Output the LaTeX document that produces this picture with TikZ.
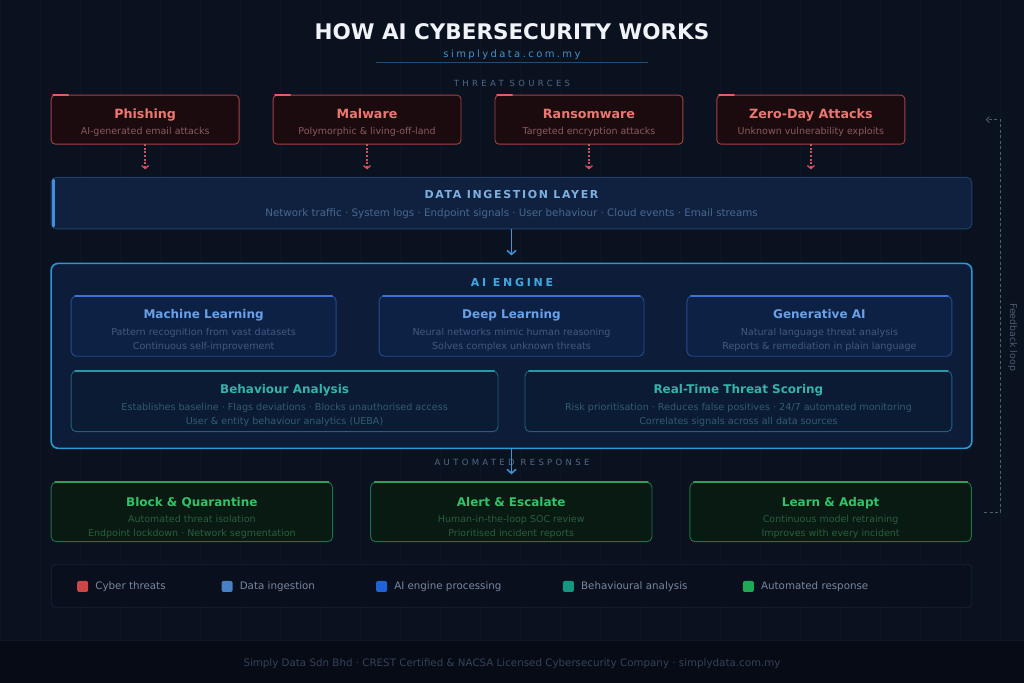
\documentclass[tikz,border=0pt]{standalone}
\usepackage{fontspec}
\setmainfont{DejaVu Sans}
\usetikzlibrary{positioning,arrows.meta}
\usepackage{xcolor}
\definecolor{PageBg}{RGB}{10,17,31}
\definecolor{GridLine}{RGB}{13,21,37}
\definecolor{FootBg}{RGB}{7,11,21}
\definecolor{FootRule}{RGB}{16,24,40}
\definecolor{TitleWhite}{RGB}{240,244,248}
\definecolor{SubBlue}{RGB}{74,144,190}
\definecolor{RuleBlue}{RGB}{30,78,120}
\definecolor{CapGrey}{RGB}{80,105,135}
\definecolor{ThreatRed}{RGB}{165,65,68}
\definecolor{ThreatAccent}{RGB}{225,95,95}
\definecolor{ThreatFill}{RGB}{27,11,15}
\definecolor{ThreatTitle}{RGB}{235,120,112}
\definecolor{ThreatText}{RGB}{140,90,92}
\definecolor{ThreatArrow}{RGB}{200,85,95}
\definecolor{IngestFill}{RGB}{15,33,62}
\definecolor{IngestLine}{RGB}{32,64,106}
\definecolor{IngestBar}{RGB}{70,140,220}
\definecolor{IngestTitle}{RGB}{125,175,225}
\definecolor{IngestText}{RGB}{72,104,145}
\definecolor{FlowBlue}{RGB}{60,150,215}
\definecolor{EngineLine}{RGB}{45,150,212}
\definecolor{EngineFill}{RGB}{13,29,57}
\definecolor{EngineTitle}{RGB}{60,170,225}
\definecolor{CardLine}{RGB}{36,76,142}
\definecolor{CardTop}{RGB}{55,118,208}
\definecolor{CardFill}{RGB}{13,33,68}
\definecolor{CardTitle}{RGB}{105,160,232}
\definecolor{CardText}{RGB}{64,90,128}
\definecolor{TealLine}{RGB}{28,100,125}
\definecolor{TealTop}{RGB}{40,150,165}
\definecolor{TealFill}{RGB}{11,27,52}
\definecolor{TealTitle}{RGB}{50,180,170}
\definecolor{TealText}{RGB}{50,92,112}
\definecolor{GreenLine}{RGB}{30,115,70}
\definecolor{GreenTop}{RGB}{45,160,95}
\definecolor{GreenFill}{RGB}{8,26,18}
\definecolor{GreenTitle}{RGB}{50,195,105}
\definecolor{GreenText}{RGB}{42,94,64}
\definecolor{LegendFill}{RGB}{9,15,28}
\definecolor{LegendLine}{RGB}{24,34,54}
\definecolor{LegendText}{RGB}{120,135,158}
\definecolor{KeyRed}{RGB}{205,70,70}
\definecolor{KeyIngest}{RGB}{70,130,195}
\definecolor{KeyEngine}{RGB}{30,100,215}
\definecolor{KeyTeal}{RGB}{20,150,130}
\definecolor{KeyGreen}{RGB}{30,170,85}
\definecolor{FeedGrey}{RGB}{80,92,115}
\definecolor{FootText}{RGB}{52,66,92}

% card headings (the rule pushes the text block down in its box)
\newcommand{\threattitle}[1]{\rule{0pt}{15.2pt}{\fontsize{12.7}{16}\selectfont\bfseries\color{ThreatTitle}#1}}
\newcommand{\cardtitle}[1]{\rule{0pt}{18pt}{\fontsize{12}{14}\selectfont\bfseries\color{CardTitle}#1}}
\newcommand{\tealtitle}[1]{\rule{0pt}{17.5pt}{\fontsize{12}{14}\selectfont\bfseries\color{TealTitle}#1}}
\newcommand{\greentitle}[1]{\rule{0pt}{20.3pt}{\fontsize{12}{14}\selectfont\bfseries\color{GreenTitle}#1}}

\begin{document}
\begin{tikzpicture}[
x=1pt,y=-1pt,
node distance=34pt,
threat/.style={
rectangle,rounded corners=4pt,draw=ThreatRed,fill=ThreatFill,line width=0.9pt,
minimum width=188pt,minimum height=49pt,inner sep=0pt,outer sep=0pt,align=center,
font=\fontsize{9.5}{16.2}\selectfont,text=ThreatText
},
ingest/.style={
rectangle,rounded corners=5pt,draw=IngestLine,fill=IngestFill,line width=0.9pt,
minimum width=921pt,minimum height=51.4pt,inner sep=0pt,outer sep=0pt,align=center,
font=\fontsize{10.3}{18.1}\selectfont,text=IngestText
},
engine/.style={
rectangle,rounded corners=7pt,draw=EngineLine,fill=EngineFill,line width=1.6pt,
minimum width=921pt,minimum height=185pt,inner sep=0pt,outer sep=0pt
},
card/.style={
rectangle,rounded corners=5pt,draw=CardLine,fill=CardFill,line width=0.9pt,
minimum width=265pt,minimum height=60.3pt,inner sep=0pt,outer sep=0pt,align=center,
font=\fontsize{9.6}{14}\selectfont,text=CardText
},
tealcard/.style={
card,draw=TealLine,fill=TealFill,text=TealText,minimum width=427pt,minimum height=60.7pt
},
respond/.style={
rectangle,rounded corners=5pt,draw=GreenLine,fill=GreenFill,line width=0.9pt,
minimum width=281.5pt,minimum height=59.4pt,inner sep=0pt,outer sep=0pt,align=center,
font=\fontsize{9.5}{13.4}\selectfont,text=GreenText
},
legendbar/.style={
rectangle,rounded corners=4pt,draw=LegendLine,fill=LegendFill,line width=0.8pt,
minimum width=921pt,minimum height=43pt,inner sep=0pt
},
keysq/.style={rectangle,rounded corners=2pt,minimum size=11pt,inner sep=0pt,outer sep=0pt},
keylabel/.style={inner sep=0pt,font=\fontsize{10.3}{12}\selectfont,text=LegendText},
spaced/.style={anchor=base,inner sep=0pt,text=CapGrey,
font=\fontsize{8.5}{10}\selectfont\addfontfeature{LetterSpace=39}},
flow/.style={-{Straight Barb[length=4pt,width=9pt]},line width=1.5pt,draw=FlowBlue},
threatflow/.style={-{Straight Barb[length=3pt,width=7pt]},line width=1.3pt,
draw=ThreatArrow,dash pattern=on 2pt off 1.6pt},
feedback/.style={-{Straight Barb[length=3pt,width=6pt]},line width=0.8pt,
draw=FeedGrey,dash pattern=on 3pt off 2.5pt},
accent/.style={line width=2pt,line cap=round}
]

% page
\fill[PageBg] (0,0) rectangle (1024,683);
\draw[GridLine,step=40] (0,0) grid (1024,640);
\fill[FootBg] (0,640) rectangle (1024,683);
\draw[FootRule] (0,640) -- (1024,640);

% heading
\node[anchor=base,inner sep=0pt,text=TitleWhite,font=\fontsize{21.5}{24}\selectfont\bfseries]
(title) at (512,39.3) {HOW AI CYBERSECURITY WORKS};
\node[anchor=base,inner sep=0pt,text=SubBlue,font=\fontsize{10}{12}\selectfont\addfontfeature{LetterSpace=24}]
(site) at (512,57) {simplydata.com.my};
\draw[RuleBlue,line width=1pt] (376,62.7) -- (648,62.7);

\node[spaced] (srcHead) at (512,86.4) {THREAT SOURCES};

% threat sources
\node[threat] (phish) at (145,119.5) {\threattitle{Phishing}\\AI-generated email attacks};
\node[threat,right=of phish] (malware) {\threattitle{Malware}\\Polymorphic \& living-off-land};
\node[threat,right=of malware] (ransom) {\threattitle{Ransomware}\\Targeted encryption attacks};
\node[threat,right=of ransom] (zeroday) {\threattitle{Zero-Day Attacks}\\Unknown vulnerability exploits};

% data ingestion
\node[ingest] (ingest) at (511.5,203) {%
\rule{0pt}{11.1pt}{\fontsize{11}{14}\selectfont\bfseries\addfontfeature{LetterSpace=15}\color{IngestTitle}DATA INGESTION LAYER}\\
Network traffic · System logs · Endpoint signals · User behaviour · Cloud events · Email streams};
\draw[accent,IngestBar,line width=3.5pt] ([xshift=2.5pt,yshift=-3pt]ingest.north west) -- ([xshift=2.5pt,yshift=3pt]ingest.south west);

\foreach \n in {phish,malware,ransom,zeroday}{
\draw[accent,ThreatAccent] ([xshift=2pt]\n.north west) -- ([xshift=17pt]\n.north west);
\draw[threatflow] (\n.south) -- ([yshift=8pt]\n.south |- ingest.north);
}

% AI engine
\node[engine] (engine) at (511.5,355.8) {};
\node[anchor=base,inner sep=0pt,text=EngineTitle,
font=\fontsize{11}{13}\selectfont\bfseries\addfontfeature{LetterSpace=25}]
(engineHead) at (512,286.7) {AI ENGINE};

\node[card] (ml) at (203.5,326) {\cardtitle{Machine Learning}\\[2.5pt]
Pattern recognition from vast datasets\\Continuous self-improvement};
\node[card,right=43pt of ml] (dl) {\cardtitle{Deep Learning}\\[2.5pt]
Neural networks mimic human reasoning\\Solves complex unknown threats};
\node[card,right=43pt of dl] (gen) {\cardtitle{Generative AI}\\[2.5pt]
Natural language threat analysis\\Reports \& remediation in plain language};

\node[tealcard] (behav) at (284.5,401.3) {\tealtitle{Behaviour Analysis}\\[2.5pt]
Establishes baseline · Flags deviations · Blocks unauthorised access\\User \& entity behaviour analytics (UEBA)};
\node[tealcard,right=27pt of behav] (score) {\tealtitle{Real-Time Threat Scoring}\\[2.5pt]
Risk prioritisation · Reduces false positives · 24/7 automated monitoring\\Correlates signals across all data sources};

\foreach \n in {ml,dl,gen}
\draw[accent,CardTop] ([xshift=4pt]\n.north west) -- ([xshift=-4pt]\n.north east);
\foreach \n in {behav,score}
\draw[accent,TealTop] ([xshift=4pt]\n.north west) -- ([xshift=-4pt]\n.north east);

% automated response
\node[spaced] (respHead) at (512,465.4) {AUTOMATED RESPONSE};

\node[respond] (block) at (191.75,512) {\greentitle{Block \& Quarantine}\\[3pt]
Automated threat isolation\\Endpoint lockdown · Network segmentation};
\node[respond,right=38pt of block] (alert) {\greentitle{Alert \& Escalate}\\[3pt]
Human-in-the-loop SOC review\\Prioritised incident reports};
\node[respond,right=38pt of alert] (adapt) {\greentitle{Learn \& Adapt}\\[3pt]
Continuous model retraining\\Improves with every incident};
\foreach \n in {block,alert,adapt}
\draw[accent,GreenTop] ([xshift=4pt]\n.north west) -- ([xshift=-4pt]\n.north east);

\draw[flow] (ingest.south) -- ([yshift=8pt]engine.north);
\draw[flow] (engine.south) -- ([yshift=8pt]engine.south |- alert.north);

% feedback loop
\coordinate (fbStart) at ([xshift=13pt]adapt.east);
\coordinate (fbEnd) at ([xshift=81pt]zeroday.east);
\draw[feedback] (fbStart) -- ++(16.5,0) |- (fbEnd);
\node[rotate=-90,inner sep=0pt,text=FeedGrey,font=\fontsize{9.4}{11}\selectfont]
(fbLabel) at (1013,337) {Feedback loop};

% legend
\node[legendbar] (legend) at (511.5,585.8) {};
\node[keysq,fill=KeyRed] (keyThreat) at (82.5,586.5) {};
\node[keylabel,right=7pt of keyThreat] (labThreat) {Cyber threats};
\node[keysq,fill=KeyIngest] (keyIngest) at (227,586.5) {};
\node[keylabel,right=7pt of keyIngest] (labIngest) {Data ingestion};
\node[keysq,fill=KeyEngine] (keyEngine) at (381.5,586.5) {};
\node[keylabel,right=7pt of keyEngine] (labEngine) {AI engine processing};
\node[keysq,fill=KeyTeal] (keyTeal) at (568.5,586.5) {};
\node[keylabel,right=7pt of keyTeal] (labTeal) {Behavioural analysis};
\node[keysq,fill=KeyGreen] (keyGreen) at (748.5,586.5) {};
\node[keylabel,right=7pt of keyGreen] (labGreen) {Automated response};

% footer
\node[anchor=base,inner sep=0pt,text=FootText,font=\fontsize{10.3}{12}\selectfont]
(footer) at (512,667) {Simply Data Sdn Bhd · CREST Certified \& NACSA Licensed Cybersecurity Company · simplydata.com.my};

\end{tikzpicture}
\end{document}
